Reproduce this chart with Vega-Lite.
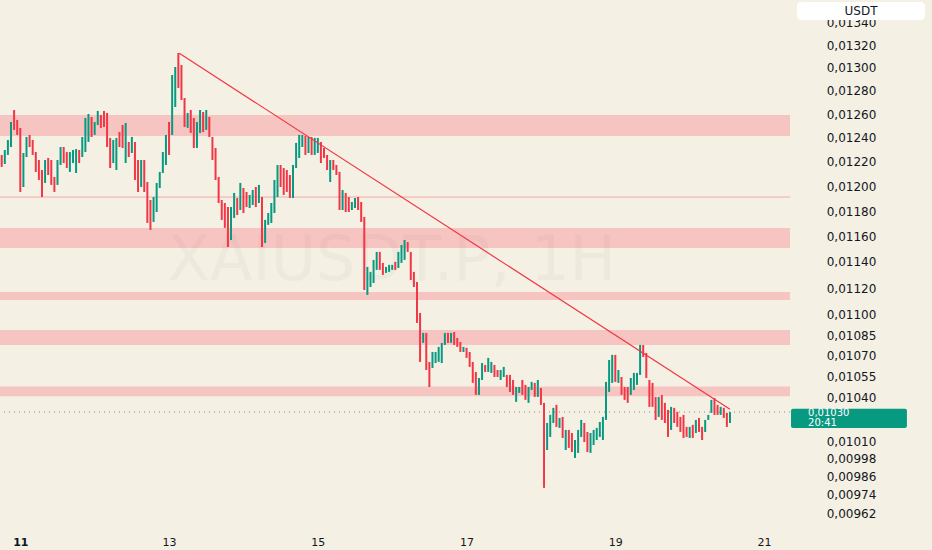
{
  "$schema": "https://vega.github.io/schema/vega-lite/v6.json",
  "width": 790,
  "height": 528,
  "autosize": {"type": "none"},
  "padding": {"left": 0, "top": 0, "right": 142, "bottom": 22},
  "background": "#f4f0e4",
  "config": {
    "view": {"stroke": null},
    "font": "DejaVu Sans"
  },
  "datasets": {
    "candles": [
      {"h":-6,"o":0.012256,"c":0.012157},{"h":-5,"o":0.012181,"c":0.012297},{"h":-4,"o":0.012256,"c":0.012381},
      {"h":-3,"o":0.012322,"c":0.012532},{"h":-2,"o":0.012634,"c":0.012465},{"h":-1,"o":0.012549,"c":0.012423},
      {"h":0,"o":0.012482,"c":0.011953},{"h":1,"o":0.011993,"c":0.012272},{"h":2,"o":0.012239,"c":0.012406},
      {"h":3,"o":0.012423,"c":0.012322},{"h":4,"o":0.012381,"c":0.012256},{"h":5,"o":0.012280,"c":0.012116},
      {"h":6,"o":0.012214,"c":0.012050},{"h":7,"o":0.012132,"c":0.011912},{"h":8,"o":0.012026,"c":0.012214},
      {"h":9,"o":0.012231,"c":0.012091},{"h":10,"o":0.012214,"c":0.012010},{"h":11,"o":0.012075,"c":0.011953},
      {"h":12,"o":0.012010,"c":0.012214},{"h":13,"o":0.012173,"c":0.012322},{"h":14,"o":0.012322,"c":0.012189},
      {"h":15,"o":0.012280,"c":0.012148},{"h":16,"o":0.012116,"c":0.012280},{"h":17,"o":0.012189,"c":0.012297},
      {"h":18,"o":0.012107,"c":0.012305},{"h":19,"o":0.012297,"c":0.012189},{"h":20,"o":0.012239,"c":0.012406},
      {"h":21,"o":0.012280,"c":0.012566},{"h":22,"o":0.012364,"c":0.012600},{"h":23,"o":0.012575,"c":0.012406},
      {"h":24,"o":0.012423,"c":0.012532},{"h":25,"o":0.012507,"c":0.012626},{"h":26,"o":0.012592,"c":0.012482},
      {"h":27,"o":0.012626,"c":0.012490},{"h":28,"o":0.012609,"c":0.012322},{"h":29,"o":0.012398,"c":0.012148},
      {"h":30,"o":0.012189,"c":0.012381},{"h":31,"o":0.012132,"c":0.012398},{"h":32,"o":0.012448,"c":0.012322},
      {"h":33,"o":0.012507,"c":0.012314},{"h":34,"o":0.012189,"c":0.012524},{"h":35,"o":0.012364,"c":0.012239},
      {"h":36,"o":0.012272,"c":0.012406},{"h":37,"o":0.012364,"c":0.012050},{"h":38,"o":0.012214,"c":0.011953},
      {"h":39,"o":0.011993,"c":0.012214},{"h":40,"o":0.012214,"c":0.011953},{"h":41,"o":0.012034,"c":0.011705},
      {"h":42,"o":0.011888,"c":0.011650},{"h":43,"o":0.011713,"c":0.011912},{"h":44,"o":0.011792,"c":0.012026},
      {"h":45,"o":0.011985,"c":0.012116},{"h":46,"o":0.012107,"c":0.012280},{"h":47,"o":0.012173,"c":0.012423},
      {"h":48,"o":0.012532,"c":0.012256},{"h":49,"o":0.012423,"c":0.012937},{"h":50,"o":0.012660,"c":0.013007},
      {"h":51,"o":0.013131,"c":0.012823},{"h":52,"o":0.013025,"c":0.012720},{"h":53,"o":0.012737,"c":0.012490},
      {"h":54,"o":0.012482,"c":0.012609},{"h":55,"o":0.012634,"c":0.012440},{"h":56,"o":0.012566,"c":0.012314},
      {"h":57,"o":0.012314,"c":0.012532},{"h":58,"o":0.012440,"c":0.012634},{"h":59,"o":0.012617,"c":0.012448},
      {"h":60,"o":0.012465,"c":0.012634},{"h":61,"o":0.012575,"c":0.012406},{"h":62,"o":0.012406,"c":0.012214},
      {"h":63,"o":0.012314,"c":0.012050},{"h":64,"o":0.012075,"c":0.011864},{"h":65,"o":0.011888,"c":0.011729},
      {"h":66,"o":0.011864,"c":0.011666},{"h":67,"o":0.011832,"c":0.011516},{"h":68,"o":0.011571,"c":0.011832},
      {"h":69,"o":0.011745,"c":0.011945},{"h":70,"o":0.011904,"c":0.011768},{"h":71,"o":0.011808,"c":0.012026},
      {"h":72,"o":0.011985,"c":0.011784},{"h":73,"o":0.011953,"c":0.011832},{"h":74,"o":0.011824,"c":0.011929},
      {"h":75,"o":0.011848,"c":0.011969},{"h":76,"o":0.011993,"c":0.011832},{"h":77,"o":0.011864,"c":0.012010},
      {"h":78,"o":0.011912,"c":0.011516},{"h":79,"o":0.011548,"c":0.011729},{"h":80,"o":0.011690,"c":0.011784},
      {"h":81,"o":0.011705,"c":0.011864},{"h":82,"o":0.011784,"c":0.012050},{"h":83,"o":0.011912,"c":0.012173},
      {"h":84,"o":0.012173,"c":0.011993},{"h":85,"o":0.012148,"c":0.011929},{"h":86,"o":0.012132,"c":0.011953},
      {"h":87,"o":0.012091,"c":0.011904},{"h":88,"o":0.011904,"c":0.012173},{"h":89,"o":0.012148,"c":0.012356},
      {"h":90,"o":0.012231,"c":0.012423},{"h":91,"o":0.012322,"c":0.012423},{"h":92,"o":0.012415,"c":0.012256},
      {"h":93,"o":0.012272,"c":0.012406},{"h":94,"o":0.012406,"c":0.012256},{"h":95,"o":0.012256,"c":0.012398},
      {"h":96,"o":0.012272,"c":0.012398},{"h":97,"o":0.012364,"c":0.012189},{"h":98,"o":0.012314,"c":0.012231},
      {"h":99,"o":0.012256,"c":0.012132},{"h":100,"o":0.012034,"c":0.012214},{"h":101,"o":0.012214,"c":0.012132},
      {"h":102,"o":0.012173,"c":0.012091},{"h":103,"o":0.012116,"c":0.011808},{"h":104,"o":0.011808,"c":0.011969},
      {"h":105,"o":0.011945,"c":0.011792},{"h":106,"o":0.011912,"c":0.011792},{"h":107,"o":0.011808,"c":0.011872},
      {"h":108,"o":0.011824,"c":0.011904},{"h":109,"o":0.011912,"c":0.011808},{"h":110,"o":0.011872,"c":0.011713},
      {"h":111,"o":0.011753,"c":0.011186},{"h":112,"o":0.011149,"c":0.011362},{"h":113,"o":0.011209,"c":0.011324},
      {"h":114,"o":0.011239,"c":0.011416},{"h":115,"o":0.011339,"c":0.011478},{"h":116,"o":0.011478,"c":0.011339},
      {"h":117,"o":0.011393,"c":0.011301},{"h":118,"o":0.011316,"c":0.011362},{"h":119,"o":0.011324,"c":0.011378},
      {"h":120,"o":0.011339,"c":0.011378},{"h":121,"o":0.011401,"c":0.011339},{"h":122,"o":0.011354,"c":0.011478},
      {"h":123,"o":0.011393,"c":0.011532},{"h":124,"o":0.011416,"c":0.011571},{"h":125,"o":0.011555,"c":0.011478},
      {"h":126,"o":0.011478,"c":0.011262},{"h":127,"o":0.011324,"c":0.011209},{"h":128,"o":0.011247,"c":0.010940},
      {"h":129,"o":0.011014,"c":0.010655},{"h":130,"o":0.010793,"c":0.010866},{"h":131,"o":0.010866,"c":0.010597},
      {"h":132,"o":0.010655,"c":0.010476},{"h":133,"o":0.010611,"c":0.010727},{"h":134,"o":0.010647,"c":0.010727},
      {"h":135,"o":0.010655,"c":0.010764},{"h":136,"o":0.010647,"c":0.010793},{"h":137,"o":0.010778,"c":0.010866},
      {"h":138,"o":0.010866,"c":0.010793},{"h":139,"o":0.010793,"c":0.010866},{"h":140,"o":0.010873,"c":0.010778},
      {"h":141,"o":0.010829,"c":0.010764},{"h":142,"o":0.010800,"c":0.010727},{"h":143,"o":0.010727,"c":0.010764},
      {"h":144,"o":0.010757,"c":0.010684},{"h":145,"o":0.010727,"c":0.010619},{"h":146,"o":0.010655,"c":0.010505},
      {"h":147,"o":0.010583,"c":0.010420},{"h":148,"o":0.010420,"c":0.010540},{"h":149,"o":0.010526,"c":0.010647},
      {"h":150,"o":0.010633,"c":0.010583},{"h":151,"o":0.010583,"c":0.010684},{"h":152,"o":0.010576,"c":0.010655},
      {"h":153,"o":0.010633,"c":0.010547},{"h":154,"o":0.010597,"c":0.010547},{"h":155,"o":0.010526,"c":0.010597},
      {"h":156,"o":0.010547,"c":0.010619},{"h":157,"o":0.010562,"c":0.010476},{"h":158,"o":0.010562,"c":0.010441},
      {"h":159,"o":0.010526,"c":0.010420},{"h":160,"o":0.010371,"c":0.010476},{"h":161,"o":0.010434,"c":0.010476},
      {"h":162,"o":0.010526,"c":0.010420},{"h":163,"o":0.010491,"c":0.010385},{"h":164,"o":0.010364,"c":0.010476},
      {"h":165,"o":0.010455,"c":0.010512},{"h":166,"o":0.010505,"c":0.010406},{"h":167,"o":0.010406,"c":0.010526},
      {"h":168,"o":0.010469,"c":0.010350},{"h":169,"o":0.010364,"c":0.009785},{"h":170,"o":0.010039,"c":0.010224},
      {"h":171,"o":0.010128,"c":0.010280},{"h":172,"o":0.010224,"c":0.010329},{"h":173,"o":0.010350,"c":0.010197},
      {"h":174,"o":0.010190,"c":0.010259},{"h":175,"o":0.010266,"c":0.010121},{"h":176,"o":0.010039,"c":0.010176},
      {"h":177,"o":0.010176,"c":0.010053},{"h":178,"o":0.010155,"c":0.010025},{"h":179,"o":0.009985,"c":0.010107},
      {"h":180,"o":0.010019,"c":0.010176},{"h":181,"o":0.010128,"c":0.010245},{"h":182,"o":0.010224,"c":0.010093},
      {"h":183,"o":0.010162,"c":0.010025},{"h":184,"o":0.010019,"c":0.010155},{"h":185,"o":0.010073,"c":0.010176},
      {"h":186,"o":0.010107,"c":0.010190},{"h":187,"o":0.010128,"c":0.010231},{"h":188,"o":0.010107,"c":0.010266},
      {"h":189,"o":0.010245,"c":0.010512},{"h":190,"o":0.010441,"c":0.010669},{"h":191,"o":0.010505,"c":0.010706},
      {"h":192,"o":0.010706,"c":0.010512},{"h":193,"o":0.010505,"c":0.010597},{"h":194,"o":0.010547,"c":0.010420},
      {"h":195,"o":0.010476,"c":0.010385},{"h":196,"o":0.010476,"c":0.010364},{"h":197,"o":0.010420,"c":0.010540},
      {"h":198,"o":0.010455,"c":0.010576},{"h":199,"o":0.010491,"c":0.010576},{"h":200,"o":0.010562,"c":0.010778},
      {"h":201,"o":0.010778,"c":0.010691},{"h":202,"o":0.010720,"c":0.010540},{"h":203,"o":0.010526,"c":0.010336},
      {"h":204,"o":0.010505,"c":0.010336},{"h":205,"o":0.010406,"c":0.010245},{"h":206,"o":0.010266,"c":0.010406},
      {"h":207,"o":0.010420,"c":0.010245},{"h":208,"o":0.010364,"c":0.010224},{"h":209,"o":0.010315,"c":0.010128},
      {"h":210,"o":0.010176,"c":0.010336},{"h":211,"o":0.010329,"c":0.010224},{"h":212,"o":0.010301,"c":0.010197},
      {"h":213,"o":0.010266,"c":0.010162},{"h":214,"o":0.010280,"c":0.010121},{"h":215,"o":0.010197,"c":0.010128},
      {"h":216,"o":0.010121,"c":0.010197},{"h":217,"o":0.010211,"c":0.010121},{"h":218,"o":0.010155,"c":0.010245},
      {"h":219,"o":0.010259,"c":0.010162},{"h":220,"o":0.010197,"c":0.010107},{"h":221,"o":0.010162,"c":0.010245},
      {"h":222,"o":0.010245,"c":0.010280},{"h":223,"o":0.010294,"c":0.010385},{"h":224,"o":0.010399,"c":0.010280},
      {"h":225,"o":0.010350,"c":0.010280},{"h":226,"o":0.010280,"c":0.010336},{"h":227,"o":0.010329,"c":0.010259},
      {"h":228,"o":0.010294,"c":0.010197},{"h":229,"o":0.010224,"c":0.010300}
    ],
    "zones": [
      {"lo": 0.012415, "hi": 0.012592},
      {"lo": 0.011508, "hi": 0.011666},
      {"lo": 0.011111, "hi": 0.011171},
      {"lo": 0.010778, "hi": 0.010888},
      {"lo": 0.010410, "hi": 0.010480}
    ],
    "trend": [
      {"h": 51.3, "p": 0.013128},
      {"h": 229, "p": 0.010319}
    ]
  },
  "layer": [
    {
      "data": {"name": "zones"},
      "mark": {"type": "rect", "color": "#f6c5c1"},
      "encoding": {
        "y": {"field": "lo", "type": "quantitative", "scale": {"type": "log", "domain": [0.009523, 0.01361], "nice": false}},
        "y2": {"field": "hi"}
      }
    },
    {
      "data": {"values": [{"p": 0.011912}]},
      "mark": {"type": "rule", "color": "#f2aaa5", "strokeWidth": 1},
      "encoding": {
        "y": {"field": "p", "type": "quantitative", "scale": {"type": "log", "domain": [0.009523, 0.01361], "nice": false}}
      }
    },
    {
      "data": {"values": [{"p": 0.0103}]},
      "mark": {"type": "rule", "color": "#8a8a8a", "strokeWidth": 1, "strokeDash": [1, 4]},
      "encoding": {
        "y": {"field": "p", "type": "quantitative", "scale": {"type": "log", "domain": [0.009523, 0.01361], "nice": false}}
      }
    },
    {
      "data": {"values": [{"h": 119.9, "p": 0.011404, "label": "XAIUSDT.P, 1H"}]},
      "mark": {"type": "text", "fontSize": 62, "color": "#000000", "opacity": 0.025, "align": "center", "baseline": "middle"},
      "encoding": {
        "x": {"field": "h", "type": "quantitative", "scale": {"domain": [-6.549, 248.37], "nice": false, "zero": false}},
        "y": {"field": "p", "type": "quantitative", "scale": {"type": "log", "domain": [0.009523, 0.01361], "nice": false}},
        "text": {"field": "label"}
      }
    },
    {
      "data": {"name": "candles"},
      "mark": {"type": "rule", "strokeWidth": 2, "clip": true},
      "encoding": {
        "x": {
          "field": "h", "type": "quantitative",
          "scale": {"domain": [-6.549, 248.37], "nice": false, "zero": false},
          "axis": {
            "title": null, "values": [0, 48, 96, 144, 192, 240],
            "labelExpr": "toString(11 + datum.value / 24)",
            "grid": false, "ticks": false, "domain": false,
            "labelPadding": 8, "labelFontSize": 11, "labelColor": "#131722",
            "labelFontWeight": {"condition": {"test": "datum.value == 0", "value": "bold"}, "value": "normal"}
          }
        },
        "y": {
          "field": "o", "type": "quantitative",
          "scale": {"type": "log", "domain": [0.009523, 0.01361], "nice": false},
          "axis": {
            "title": null, "orient": "right",
            "values": [0.0134, 0.0132, 0.013, 0.0128, 0.0126, 0.0124, 0.0122, 0.012, 0.0118, 0.0116, 0.0114, 0.0112, 0.011, 0.01085, 0.0107, 0.01055, 0.0104, 0.0101, 0.00998, 0.00986, 0.00974, 0.00962],
            "labelExpr": "replace(format(datum.value, '.5f'), '.', ',')",
            "grid": false, "ticks": false, "domain": false,
            "labelAlign": "center", "labelPadding": 61,
            "labelFontSize": 12, "labelColor": "#131722"
          }
        },
        "y2": {"field": "c"},
        "color": {
          "condition": {"test": "datum.c >= datum.o", "value": "#089981"},
          "value": "#f23645"
        }
      }
    },
    {
      "data": {"name": "trend"},
      "mark": {"type": "line", "color": "#f23645", "strokeWidth": 1.2},
      "encoding": {
        "x": {"field": "h", "type": "quantitative", "scale": {"domain": [-6.549, 248.37], "nice": false, "zero": false}},
        "y": {"field": "p", "type": "quantitative", "scale": {"type": "log", "domain": [0.009523, 0.01361], "nice": false}}
      }
    },
    {
      "data": {"values": [{"h0": 248.7, "h1": 286.1, "lo": 0.01019, "hi": 0.010322}]},
      "mark": {"type": "rect", "color": "#089981", "cornerRadius": 2, "clip": false},
      "encoding": {
        "x": {"field": "h0", "type": "quantitative", "scale": {"domain": [-6.549, 248.37], "nice": false, "zero": false}},
        "x2": {"field": "h1"},
        "y": {"field": "lo", "type": "quantitative", "scale": {"type": "log", "domain": [0.009523, 0.01361], "nice": false}},
        "y2": {"field": "hi"}
      }
    },
    {
      "data": {"values": [
        {"h": 254.2, "p": 0.010294, "label": "0,01030"},
        {"h": 254.2, "p": 0.010221, "label": "20:41"}
      ]},
      "mark": {"type": "text", "color": "#ffffff", "fontSize": 10, "align": "left", "baseline": "middle", "clip": false},
      "encoding": {
        "x": {"field": "h", "type": "quantitative", "scale": {"domain": [-6.549, 248.37], "nice": false, "zero": false}},
        "y": {"field": "p", "type": "quantitative", "scale": {"type": "log", "domain": [0.009523, 0.01361], "nice": false}},
        "text": {"field": "label"}
      }
    },
    {
      "data": {"values": [{"h0": 250.6, "h1": 291.9, "lo": 0.013427, "hi": 0.013592}]},
      "mark": {"type": "rect", "color": "#ffffff", "cornerRadius": 4, "clip": false},
      "encoding": {
        "x": {"field": "h0", "type": "quantitative", "scale": {"domain": [-6.549, 248.37], "nice": false, "zero": false}},
        "x2": {"field": "h1"},
        "y": {"field": "lo", "type": "quantitative", "scale": {"type": "log", "domain": [0.009523, 0.01361], "nice": false}},
        "y2": {"field": "hi"}
      }
    },
    {
      "data": {"values": [{"h": 271.3, "p": 0.013509, "label": "USDT"}]},
      "mark": {"type": "text", "color": "#131722", "fontSize": 12, "align": "center", "baseline": "middle", "clip": false},
      "encoding": {
        "x": {"field": "h", "type": "quantitative", "scale": {"domain": [-6.549, 248.37], "nice": false, "zero": false}},
        "y": {"field": "p", "type": "quantitative", "scale": {"type": "log", "domain": [0.009523, 0.01361], "nice": false}},
        "text": {"field": "label"}
      }
    }
  ]
}
